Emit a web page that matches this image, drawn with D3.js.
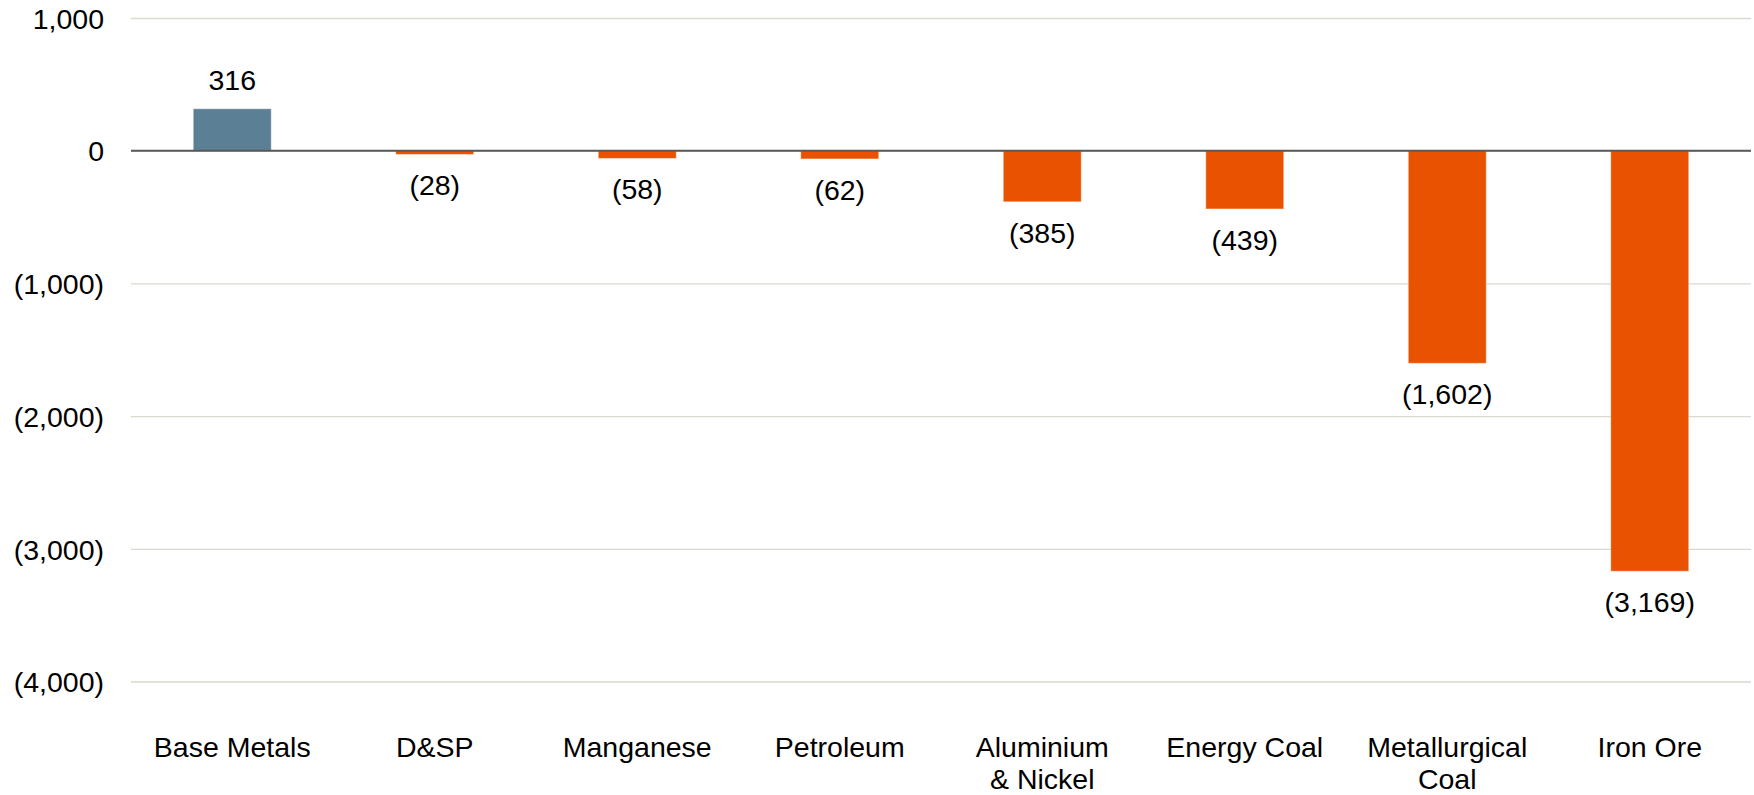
<!DOCTYPE html>
<html>
  <head>
    <meta charset="UTF-8">
    <title>Change by segment</title>
    <style>
    html, body {
      margin: 0;
      background-color: #ffffff;
    }
    svg text {
      font-family: 'Liberation Sans', Arial, sans-serif;
      fill: #000000;
    }
    </style>
  </head>
  <body>
  <script src="https://d3js.org/d3.v7.min.js"></script>
  <script>
  // Chart data
  var categories = ['Base Metals', 'D&SP', 'Manganese', 'Petroleum', 'Aluminium\n& Nickel', 'Energy Coal', 'Metallurgical\nCoal', 'Iron Ore'];
  var values = [316, -28, -58, -62, -385, -439, -1602, -3169];
  var yTicks = [1000, 0, -1000, -2000, -3000, -4000];

  var svgWidth = 1754;
  var svgHeight = 795;
  // plot area (note: "top" is reserved on window, so use other names)
  var plotLeft = 131, plotRight = 1751, plotTop = 18, plotBottom = 681.5;
  var fontSize = 28.5;

  var svg = d3.select('body').append('svg')
    .attr('width', svgWidth)
    .attr('height', svgHeight);

  // Scales
  var x = d3.scaleBand()
    .domain(categories)
    .range([plotLeft, plotRight])
    .paddingInner(0.615)
    .paddingOuter(0.3075);
  var y = d3.scaleLinear()
    .domain([-4000, 1000])
    .range([plotBottom, plotTop]);

  // Negative numbers in brackets
  var comma = d3.format(',');
  function fmt(v) {
    return v < 0 ? '(' + comma(-v) + ')' : comma(v);
  }

  // Gridlines + y labels
  var yAxis = svg.append('g')
    .attr('transform', 'translate(' + plotLeft + ',0)')
    .call(d3.axisLeft(y).tickValues(yTicks).tickFormat(fmt)
      .tickSize(-(plotRight - plotLeft)).tickPadding(27));
  yAxis.select('.domain').remove();
  yAxis.selectAll('line')
    .attr('stroke', '#d9d9d0')
    .attr('stroke-width', 1.3);
  yAxis.selectAll('text')
    .style('font-size', fontSize + 'px')
    .attr('dy', '0.36em');

  // Bars
  svg.selectAll('rect.bar')
    .data(values)
    .enter()
    .append('rect')
    .attr('class', 'bar')
    .attr('x', function(d, i) { return x(categories[i]); })
    .attr('width', x.bandwidth())
    .attr('y', function(d) { return y(Math.max(0, d)); })
    .attr('height', function(d) { return Math.abs(y(d) - y(0)); })
    .attr('fill', function(d) { return d >= 0 ? '#5b7f94' : '#e85200'; })
    .attr('stroke', '#ffffff')
    .attr('stroke-opacity', 0.4)
    .attr('stroke-width', 1);

  // Zero line
  svg.append('line')
    .attr('x1', plotLeft).attr('x2', plotRight)
    .attr('y1', y(0)).attr('y2', y(0))
    .attr('stroke', '#595959')
    .attr('stroke-width', 2);

  // Value labels
  svg.selectAll('text.val')
    .data(values)
    .enter()
    .append('text')
    .attr('class', 'val')
    .attr('x', function(d, i) { return x(categories[i]) + x.bandwidth() / 2; })
    .attr('y', function(d) { return d >= 0 ? y(d) - 19 : y(d) + 41; })
    .attr('text-anchor', 'middle')
    .style('font-size', fontSize + 'px')
    .text(fmt);

  // Category labels (two-line ones split on \n)
  var cat = svg.selectAll('text.cat')
    .data(categories)
    .enter()
    .append('text')
    .attr('class', 'cat')
    .attr('text-anchor', 'middle')
    .attr('transform', function(d) { return 'translate(' + (x(d) + x.bandwidth() / 2) + ',757)'; })
    .style('font-size', fontSize + 'px');
  cat.selectAll('tspan')
    .data(function(d) { return d.split('\n'); })
    .enter()
    .append('tspan')
    .attr('x', 0)
    .attr('y', function(d, i) { return i * 31.5; })
    .text(function(d) { return d; });
  </script>
  </body>
</html>
